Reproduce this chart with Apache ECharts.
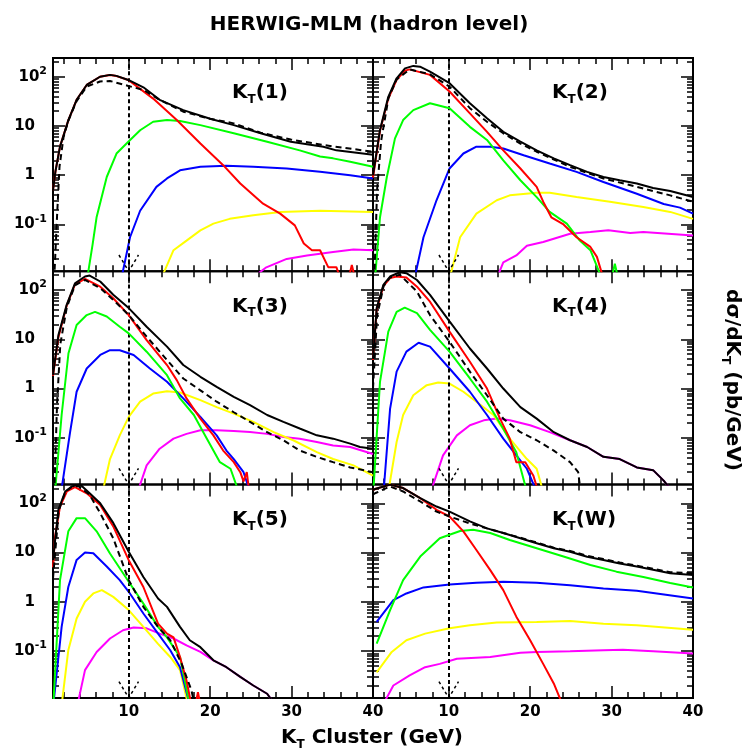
<!DOCTYPE html>
<html><head><meta charset="utf-8">
<script src="https://cdn.jsdelivr.net/npm/echarts@6/dist/echarts.min.js"></script>
<style>html,body{margin:0;padding:0;background:#fff}#c{width:747px;height:755px}</style>
</head><body><div id="c"></div>
<script>
// ---------- axis settings / tick values ----------
const xMin = 0.7, xMax = 40, yMin = 0.0112, yMax = 240;
const cutX = 10;
const xMajorVals = [10, 20, 30, 40];
const xMinorVals = [2, 4, 6, 8, 12, 14, 16, 18, 22, 24, 26, 28, 32, 34, 36, 38];
const yLabelVals = [0.1, 1, 10, 100];
const yMinorVals = [0.02,0.03,0.04,0.05,0.06,0.07,0.08,0.09,0.2,0.3,0.4,0.5,0.6,0.7,0.8,0.9,2,3,4,5,6,7,8,9,20,30,40,50,60,70,80,90,200];
const panelNames = ['1', '2', '3', '4', '5', 'W'];
const arrowPts = [[8.8, 0.024], [10, 0.0112], [11.2, 0.024]];

// ---------- K_T(1) ----------
const kt1Black = [[0.7,0.5],[1.0,1.2],[1.56,3.8],[2.58,13],[3.6,34],[4.84,68],[6.47,100],[7.7,109],[8.5,104],[9.95,86],[11.8,61],[13.8,34],[16.7,21],[20,14],[22.9,10.4],[26.2,7.1],[29.9,4.8],[33.9,3.8],[35.5,3.2],[40,2.6]];
const kt1Dashed = [[0.9,0.012],[1.2,0.15],[1.5,1.5],[2.0,6],[2.6,13],[3.6,32],[4.84,63],[6.47,80],[7.7,82],[9.95,65],[11.8,54],[13.8,34],[16.7,19.5],[20,14],[22.9,11.3],[26.2,7.3],[29.9,5.3],[33.9,4.1],[40,3.0]];
const kt1Red = [[0.7,0.5],[1.0,1.2],[1.56,3.8],[2.58,13],[3.6,34],[4.84,68],[6.47,100],[7.7,108],[8.5,103],[9.95,86],[13,36],[15.9,13.2],[18.8,4.4],[21.6,1.6],[23.7,0.68],[26.5,0.265],[28.6,0.166],[30.4,0.096],[31.5,0.041],[32.5,0.03],[33.5,0.03],[34.5,0.0136],[35.5,0.0136],[36,0.008],[37,0.008],[37.4,0.015],[37.8,0.008]];
const kt1Green = [[4.9,0.008],[5.57,0.04],[6.06,0.142],[7.3,0.92],[8.5,2.76],[9.95,4.8],[11.4,8.2],[13,12.2],[14.7,13.2],[16.3,12.6],[18.8,10.4],[22.9,7.1],[27,4.8],[31,3.2],[33.5,2.4],[35.1,2.2],[37.2,1.87],[40,1.48]];
const kt1Blue = [[9.1,0.008],[10.16,0.055],[11.4,0.19],[13.4,0.58],[14.7,0.86],[16.3,1.26],[18.8,1.48],[22,1.55],[25.3,1.48],[29.4,1.37],[33.5,1.17],[37.2,1.0],[40,0.86]];
const kt1Yellow = [[14.0,0.008],[15.5,0.03],[17.1,0.047],[18.8,0.076],[20.4,0.104],[22.4,0.13],[25.3,0.154],[28.6,0.18],[33.5,0.19],[40,0.18]];
const kt1Magenta = [[25.1,0.008],[26.9,0.0135],[29.4,0.02],[31.9,0.0235],[35.1,0.0275],[37.6,0.031],[40,0.03]];

// ---------- K_T(2) ----------
const kt2Black = [[0.7,1.0],[1.56,8.3],[2.58,39],[3.6,93],[4.63,148],[5.65,166],[6.47,160],[7.7,127],[10.1,74],[12.6,29],[14.7,14.3],[16.7,7.6],[18.8,4.8],[20.8,3.2],[22.9,2.2],[24.9,1.6],[27,1.17],[29,0.92],[31,0.79],[33.1,0.68],[35.1,0.55],[37.2,0.48],[40,0.36]];
const kt2Dashed = [[0.9,0.012],[1.2,0.5],[1.7,5],[2.6,37],[3.6,88],[5.2,141],[7.7,112],[10.1,63],[12.6,23],[14.7,12.2],[16.7,7.1],[18.8,4.4],[20.8,3.0],[24.9,1.48],[29,0.86],[33.1,0.58],[37.2,0.39],[40,0.29]];
const kt2Red = [[0.7,0.9],[1.56,8],[2.58,36],[3.6,86],[4.63,133],[5.2,141],[7.7,109],[10.1,50],[12.6,18],[14.7,7.6],[16.7,3.2],[18.8,1.37],[20.8,0.58],[21.6,0.29],[22.6,0.14],[24.1,0.1],[25.7,0.055],[27.4,0.035],[28.2,0.022],[29,0.008]];
const kt2Green = [[0.95,0.008],[1.56,0.14],[2.4,0.92],[3.4,5.6],[4.4,13.2],[5.65,21],[7.7,29],[10.1,23],[12.6,9.6],[14.7,5.2],[16.7,2.0],[18.8,0.79],[20.8,0.36],[22.4,0.18],[24.5,0.104],[26.1,0.047],[27.4,0.03],[28.8,0.008],[30.0,0.008],[30.4,0.016],[30.8,0.008]];
const kt2Blue = [[5.8,0.008],[6.9,0.055],[8.5,0.31],[10.1,1.37],[11.8,2.76],[13.4,3.8],[15.1,3.8],[16.7,3.5],[19.2,2.55],[22.4,1.73],[25.7,1.17],[29,0.73],[33.1,0.42],[36.4,0.26],[38.4,0.22],[40,0.166]];
const kt2Yellow = [[10.1,0.008],[11.4,0.055],[13.4,0.166],[15.9,0.31],[17.5,0.39],[20.8,0.44],[22.4,0.44],[25.7,0.36],[29.8,0.29],[33.9,0.226],[37.2,0.18],[40,0.13]];
const kt2Magenta = [[15.9,0.008],[16.7,0.017],[18.3,0.0235],[19.6,0.037],[21.6,0.044],[24.9,0.065],[27.4,0.07],[29.6,0.076],[32.3,0.067],[33.9,0.07],[40,0.06]];

// ---------- K_T(3) ----------
const kt3Black = [[0.7,1.9],[1.36,12],[2.38,50],[3.4,137],[4.63,188],[5.2,197],[6.5,149],[8.1,80],[10,43],[12.2,18],[14.7,7.1],[16.7,3.0],[18.8,1.73],[20.8,1.08],[22.9,0.68],[24.9,0.46],[27,0.29],[29,0.21],[31,0.154],[33.1,0.112],[35.1,0.096],[37.2,0.076],[38.4,0.065],[40,0.06]];
const kt3Dashed = [[0.9,0.012],[1.2,0.5],[1.6,8],[2.4,45],[3.4,125],[4.63,160],[6.5,109],[8.1,63],[10,31],[12.2,11.3],[14.7,3.8],[16.7,1.6],[18.8,0.92],[20.8,0.54],[22.9,0.33],[24.9,0.21],[27,0.13],[29,0.089],[31,0.055],[33.1,0.041],[35.1,0.032],[37.2,0.025],[40,0.02]];
const kt3Red = [[0.7,1.8],[1.36,11],[2.38,48],[3.4,130],[4.63,169],[6.5,117],[8.1,68],[10,31],[12.2,9.6],[14.7,3.0],[15.9,1.48],[17.1,0.63],[18.8,0.245],[20.4,0.112],[21.6,0.055],[22.9,0.032],[23.7,0.02],[24.1,0.013],[24.5,0.02],[24.8,0.008]];
const kt3Green = [[0.95,0.008],[1.76,0.29],[2.6,5.2],[3.6,19.5],[4.84,31],[5.86,36],[7.3,29],[8.9,18],[10,13.2],[12.2,5.6],[14.7,1.87],[16.3,0.63],[18,0.29],[19.6,0.096],[21.2,0.032],[22.5,0.0235],[23.5,0.008]];
const kt3Blue = [[1.7,0.008],[2.8,0.13],[3.6,0.86],[4.84,2.55],[6.5,4.8],[7.7,6.0],[8.9,6.0],[10.6,4.8],[12.6,2.55],[14.7,1.37],[16.7,0.63],[18.8,0.265],[20.8,0.112],[22,0.055],[22.9,0.037],[24.1,0.02],[24.9,0.008]];
const kt3Yellow = [[6.8,0.008],[7.7,0.037],[8.9,0.112],[10,0.265],[11.4,0.54],[13,0.79],[14.7,0.88],[16.3,0.83],[18.8,0.58],[20.8,0.42],[22.9,0.31],[25.3,0.21],[27.8,0.13],[30.2,0.089],[33.1,0.051],[35.1,0.037],[37.6,0.0275],[40,0.017]];
const kt3Magenta = [[11.1,0.008],[12.2,0.0275],[13.8,0.06],[15.5,0.096],[17.1,0.12],[18.8,0.142],[20.8,0.142],[22.9,0.137],[24.9,0.131],[27,0.12],[29,0.104],[31,0.096],[33.1,0.082],[35.1,0.07],[37.2,0.065],[40,0.047]];

// ---------- K_T(4) ----------
const kt4Black = [[0.7,4],[1.15,43],[1.97,127],[2.8,188],[4.0,230],[4.8,220],[6.1,160],[7.7,80],[10.1,23],[12.6,6.5],[14.7,2.55],[16.7,1.0],[18.8,0.42],[20.8,0.245],[22.9,0.13],[24.9,0.089],[27,0.065],[29,0.041],[31,0.037],[33.1,0.025],[35.1,0.022],[36.4,0.0135],[37.5,0.008]];
const kt4Dashed = [[0.7,1.0],[1.2,30],[2.0,120],[2.8,180],[4.0,204],[6.1,93],[7.7,31],[10.1,8.9],[12.6,2.2],[14.7,0.73],[16.7,0.245],[18.8,0.13],[20.8,0.089],[22.9,0.055],[24.9,0.032],[25.9,0.02],[26.2,0.008]];
const kt4Red = [[0.7,3.8],[1.15,40],[1.97,120],[2.8,175],[3.6,188],[4.8,180],[6.1,117],[7.7,58],[10.1,14.3],[12.6,3.5],[14.7,1.0],[16.3,0.245],[17.5,0.096],[18.3,0.032],[19.4,0.032],[20.4,0.017],[21,0.008]];
const kt4Green = [[0.74,0.008],[1.56,1.37],[2.58,14.3],[3.6,36],[4.6,44],[6.1,34],[7.7,15.5],[10.1,5.6],[12.6,1.6],[14.7,0.54],[16.7,0.153],[18.3,0.051],[19.6,0.008]];
const kt4Blue = [[2.0,0.008],[2.8,0.39],[3.6,2.2],[4.8,5.6],[6.3,8.5],[7.7,7.1],[10.1,2.55],[12.6,0.86],[14.7,0.29],[16.7,0.096],[18.3,0.044],[19.6,0.0235],[20.8,0.008]];
const kt4Yellow = [[2.58,0.008],[3.6,0.082],[4.4,0.29],[5.65,0.73],[7.3,1.17],[8.7,1.32],[10.1,1.26],[11.8,0.86],[13.4,0.54],[15.5,0.29],[17.5,0.096],[19.6,0.037],[20.8,0.0235],[21.6,0.008]];
const kt4Magenta = [[7.8,0.008],[9.3,0.044],[11,0.112],[12.6,0.18],[14.3,0.226],[15.9,0.245],[17.5,0.226],[20,0.18],[22.4,0.13],[24.9,0.089],[27,0.065],[29,0.041],[31,0.037],[33.1,0.025],[35.1,0.022],[36.4,0.0135],[37.5,0.008]];

// ---------- K_T(5) ----------
const kt5Black = [[0.7,7],[1.36,74],[2.2,174],[3.0,219],[4.0,245],[5.2,160],[6.5,100],[8.1,40],[10,10.4],[11.8,3.2],[13.6,1.17],[14.7,0.79],[16.3,0.31],[17.5,0.166],[18.8,0.12],[20.4,0.065],[22,0.047],[23.7,0.03],[25.3,0.02],[27,0.0136],[28,0.008]];
const kt5Dashed = [[0.7,3],[1.4,70],[2.2,170],[3.0,215],[3.8,225],[5.2,149],[6.5,63],[8.1,19.5],[10,2.76],[11.8,0.79],[13.6,0.31],[15.1,0.166],[16.5,0.055],[17.7,0.016],[18.1,0.008]];
const kt5Red = [[0.7,5],[0.95,21],[1.56,86],[2.4,174],[3.4,213],[4.84,160],[6.5,93],[8.1,34],[10,7],[11.8,2.0],[13.6,0.36],[14.7,0.226],[15.5,0.19],[16.3,0.076],[17.1,0.025],[17.7,0.008],[18.2,0.008],[18.5,0.0147],[18.8,0.008]];
const kt5Green = [[0.74,0.008],[1.56,2.76],[2.58,27],[3.6,50],[4.63,50],[6.06,27],[7.7,9.6],[10,2.55],[11.8,0.92],[13.6,0.31],[14.7,0.19],[16.3,0.076],[17.5,0.008]];
const kt5Blue = [[0.74,0.008],[1.76,0.31],[2.58,2.0],[3.6,7.1],[4.63,10],[5.65,9.7],[7.3,5.2],[8.9,2.76],[10,1.6],[11.8,0.58],[13.6,0.226],[15.1,0.104],[16.3,0.047],[17.5,0.008]];
const kt5Yellow = [[1.76,0.008],[2.58,0.104],[3.6,0.46],[4.63,1.0],[5.65,1.48],[6.7,1.73],[8.1,1.26],[10,0.68],[11.8,0.31],[13.6,0.14],[15.1,0.076],[16.3,0.041],[17.3,0.008]];
const kt5Magenta = [[3.7,0.008],[4.63,0.041],[6.06,0.096],[7.7,0.18],[9.3,0.265],[10.6,0.3],[12.2,0.29],[13.8,0.226],[15.5,0.18],[17.1,0.13],[18.8,0.096],[20.4,0.065],[22,0.047],[23.7,0.03],[25.3,0.02],[27,0.0136],[28,0.008]];

// ---------- K_T(W) ----------
const ktWBlack = [[0.7,185],[0.95,195],[2.8,240],[4.4,204],[6.5,127],[8.5,86],[10.1,68],[12.6,43],[14.7,31],[16.7,25],[18.8,19.5],[20.8,15.5],[22.9,12.2],[24.9,10.4],[27,8.2],[29,7.1],[31,6.0],[33.1,5.2],[35.1,4.5],[37.2,3.8],[40,3.5]];
const ktWDashed = [[0.7,150],[0.95,160],[2.8,220],[4.4,174],[6.5,109],[8.5,68],[10.1,54],[12.6,39],[14.7,31],[16.7,25],[18.8,20],[20.8,16],[22.9,12.6],[24.9,10.8],[27,8.6],[29,7.4],[31,6.3],[33.1,5.4],[35.1,4.7],[37.2,4.0],[40,3.8]];
const ktWRed = [[0.7,185],[0.95,195],[2.8,240],[4.4,204],[6.5,127],[8.5,74],[10.1,54],[11.8,27],[13.4,11.3],[15.1,4.4],[16.7,1.73],[18.3,0.5],[20,0.166],[21.6,0.055],[22.9,0.022],[24,0.008]];
const ktWGreen = [[1.15,0.142],[2.8,0.68],[4.4,2.76],[6.5,8.3],[8.9,19.5],[10.1,23],[11.4,27.5],[13,29],[15.1,25],[17.5,18],[20.8,12.2],[24.1,8.3],[27.4,5.6],[30.6,4.1],[33.9,3.2],[37.2,2.4],[40,1.96]];
const ktWBlue = [[1.15,0.39],[3.2,1.08],[4.8,1.48],[6.9,1.96],[10.1,2.25],[13.4,2.45],[16.7,2.55],[20.8,2.45],[24.9,2.18],[29,1.87],[33.1,1.67],[40,1.17]];
const ktWYellow = [[1.15,0.037],[3.0,0.096],[4.8,0.166],[7.1,0.226],[10.1,0.29],[12.6,0.335],[15.9,0.38],[20.8,0.39],[24.9,0.41],[29,0.36],[33.1,0.335],[40,0.27]];
const ktWMagenta = [[1.9,0.008],[3.2,0.02],[5.2,0.032],[7.1,0.047],[8.9,0.055],[11,0.07],[15.1,0.076],[18.8,0.092],[20.8,0.096],[24.9,0.099],[29,0.104],[31.4,0.107],[35.1,0.099],[40,0.089]];

// ---------- assemble ----------
const panels = [
  {magenta:kt1Magenta, yellow:kt1Yellow, blue:kt1Blue, green:kt1Green, red:kt1Red, dashed:kt1Dashed, black:kt1Black},
  {magenta:kt2Magenta, yellow:kt2Yellow, blue:kt2Blue, green:kt2Green, red:kt2Red, dashed:kt2Dashed, black:kt2Black},
  {magenta:kt3Magenta, yellow:kt3Yellow, blue:kt3Blue, green:kt3Green, red:kt3Red, dashed:kt3Dashed, black:kt3Black},
  {magenta:kt4Magenta, yellow:kt4Yellow, blue:kt4Blue, green:kt4Green, red:kt4Red, dashed:kt4Dashed, black:kt4Black},
  {magenta:kt5Magenta, yellow:kt5Yellow, blue:kt5Blue, green:kt5Green, red:kt5Red, dashed:kt5Dashed, black:kt5Black},
  {magenta:ktWMagenta, yellow:ktWYellow, blue:ktWBlue, green:ktWGreen, red:ktWRed, dashed:ktWDashed, black:ktWBlack}
];
const seriesColors = {magenta:'#ff00ff', yellow:'#ffff00', blue:'#0000ff', green:'#00ff00', red:'#ff0000', dashed:'#000000', black:'#000000'};
const drawOrder = ['magenta','yellow','blue','green','red','dashed','black'];

const FONT = 'DejaVu Sans';
const G = {left0: 53, top0: 58, w: 320, h: 213.3};

const grids = [], xAxes = [], yAxes = [], series = [], graphics = [];
const tickStyle = {color:'#000', width:1.5};

function yLabelFmt(v) {
  const e = Math.round(Math.log10(v));
  if (e === 0) return '{n|1}{p|}';
  if (e === 1) return '{n|10}{p|}';
  return '{n|10}{s|' + (e === 2 ? '2' : '-1') + '}';
}

panels.forEach((p, i) => {
  const r = Math.floor(i / 2), c = i % 2;
  const left = G.left0 + c * G.w, top = G.top0 + r * G.h;
  grids.push({left: left, top: top, width: G.w, height: G.h, show: true, borderColor: '#000', borderWidth: 2, backgroundColor: 'transparent', containLabel: false});
  const xBase = {gridIndex: i, type: 'value', min: xMin, max: xMax, axisLine: {show: false, onZero: false}, splitLine: {show: false}};
  xAxes.push(Object.assign({}, xBase, {position: 'bottom',
    axisTick: {show: true, inside: true, length: 12, lineStyle: tickStyle, customValues: xMajorVals},
    axisLabel: {show: r === 2, customValues: xMajorVals, margin: 7, color: '#000', fontFamily: FONT, fontWeight: 'bold', fontSize: 15}}));
  xAxes.push(Object.assign({}, xBase, {position: 'bottom',
    axisTick: {show: true, inside: true, length: 6, lineStyle: tickStyle, customValues: xMinorVals},
    axisLabel: {show: false}}));
  xAxes.push(Object.assign({}, xBase, {position: 'top',
    axisTick: {show: true, inside: true, length: 12, lineStyle: tickStyle, customValues: xMajorVals},
    axisLabel: {show: false}}));
  xAxes.push(Object.assign({}, xBase, {position: 'top',
    axisTick: {show: true, inside: true, length: 6, lineStyle: tickStyle, customValues: xMinorVals},
    axisLabel: {show: false}}));
  const yBase = {gridIndex: i, type: 'log', logBase: 10, min: yMin, max: yMax, axisLine: {show: false, onZero: false}, splitLine: {show: false}, minorTick: {show: false}};
  yAxes.push(Object.assign({}, yBase, {position: 'left',
    axisTick: {show: true, inside: true, length: 12, lineStyle: tickStyle, customValues: yLabelVals},
    axisLabel: {show: c === 0, customValues: yLabelVals, margin: 6, formatter: yLabelFmt,
      rich: {
        n: {fontFamily: FONT, fontWeight: 'bold', fontSize: 15, color: '#000', lineHeight: 22},
        s: {fontFamily: FONT, fontWeight: 'bold', fontSize: 11, color: '#000', lineHeight: 12, verticalAlign: 'top'},
        p: {width: 12}
      }}}));
  yAxes.push(Object.assign({}, yBase, {position: 'left',
    axisTick: {show: true, inside: true, length: 6, lineStyle: tickStyle, customValues: yMinorVals},
    axisLabel: {show: false}}));
  yAxes.push(Object.assign({}, yBase, {position: 'right',
    axisTick: {show: true, inside: true, length: 12, lineStyle: tickStyle, customValues: yLabelVals},
    axisLabel: {show: false}}));
  yAxes.push(Object.assign({}, yBase, {position: 'right',
    axisTick: {show: true, inside: true, length: 6, lineStyle: tickStyle, customValues: yMinorVals},
    axisLabel: {show: false}}));

  drawOrder.forEach((k, j) => {
    const s = {type: 'line', name: 'KT' + panelNames[i] + '-' + k, xAxisIndex: 4 * i, yAxisIndex: 4 * i,
      data: p[k], symbol: 'none', showSymbol: false, clip: true, silent: true, animation: false, z: 2 + j,
      lineStyle: {color: seriesColors[k], width: 2, type: k === 'dashed' ? [6, 4] : 'solid'}};
    if (k === 'black') {
      s.markLine = {silent: true, symbol: 'none', animation: false, label: {show: false},
        lineStyle: {color: '#000', width: 2, type: [4, 3]}, data: [{xAxis: cutX}]};
    }
    series.push(s);
  });
  series.push({type: 'line', xAxisIndex: 4 * i, yAxisIndex: 4 * i, data: arrowPts, symbol: 'none', clip: true,
    silent: true, animation: false, z: 10, lineStyle: {color: '#000', width: 1.5, type: [3, 3]}});

  graphics.push({type: 'text', x: left + 179, y: top + 35,
    style: {text: '{k|K}{t|T}{k|(' + panelNames[i] + ')}', align: 'left', verticalAlign: 'middle',
      rich: {k: {fontFamily: FONT, fontWeight: 'bold', fontSize: 20, lineHeight: 26, fill: '#000'},
             t: {fontFamily: FONT, fontWeight: 'bold', fontSize: 12, lineHeight: 14, verticalAlign: 'bottom', fill: '#000'}}}});
});

graphics.push({type: 'text', x: 369, y: 25,
  style: {text: 'HERWIG-MLM (hadron level)', align: 'center', verticalAlign: 'middle', fill: '#000',
    font: 'bold 20px "DejaVu Sans"'}});
graphics.push({type: 'text', x: 372, y: 738,
  style: {text: '{a|K}{t|T}{a| Cluster (GeV)}', align: 'center', verticalAlign: 'middle',
    rich: {a: {fontFamily: FONT, fontWeight: 'bold', fontSize: 20, lineHeight: 26, fill: '#000'},
           t: {fontFamily: FONT, fontWeight: 'bold', fontSize: 12, lineHeight: 14, verticalAlign: 'bottom', fill: '#000'}}}});
graphics.push({type: 'text', x: 732, y: 380, rotation: -Math.PI / 2,
  style: {text: '{a|dσ/dK}{t|T}{a| (pb/GeV)}', align: 'center', verticalAlign: 'middle',
    rich: {a: {fontFamily: FONT, fontWeight: 'bold', fontSize: 20, lineHeight: 26, fill: '#000'},
           t: {fontFamily: FONT, fontWeight: 'bold', fontSize: 12, lineHeight: 14, verticalAlign: 'bottom', fill: '#000'}}}});

const chart = echarts.init(document.getElementById('c'), null, {renderer: 'canvas'});
chart.setOption({
  animation: false,
  backgroundColor: '#fff',
  grid: grids, xAxis: xAxes, yAxis: yAxes, series: series, graphic: graphics
});
</script></body></html>
